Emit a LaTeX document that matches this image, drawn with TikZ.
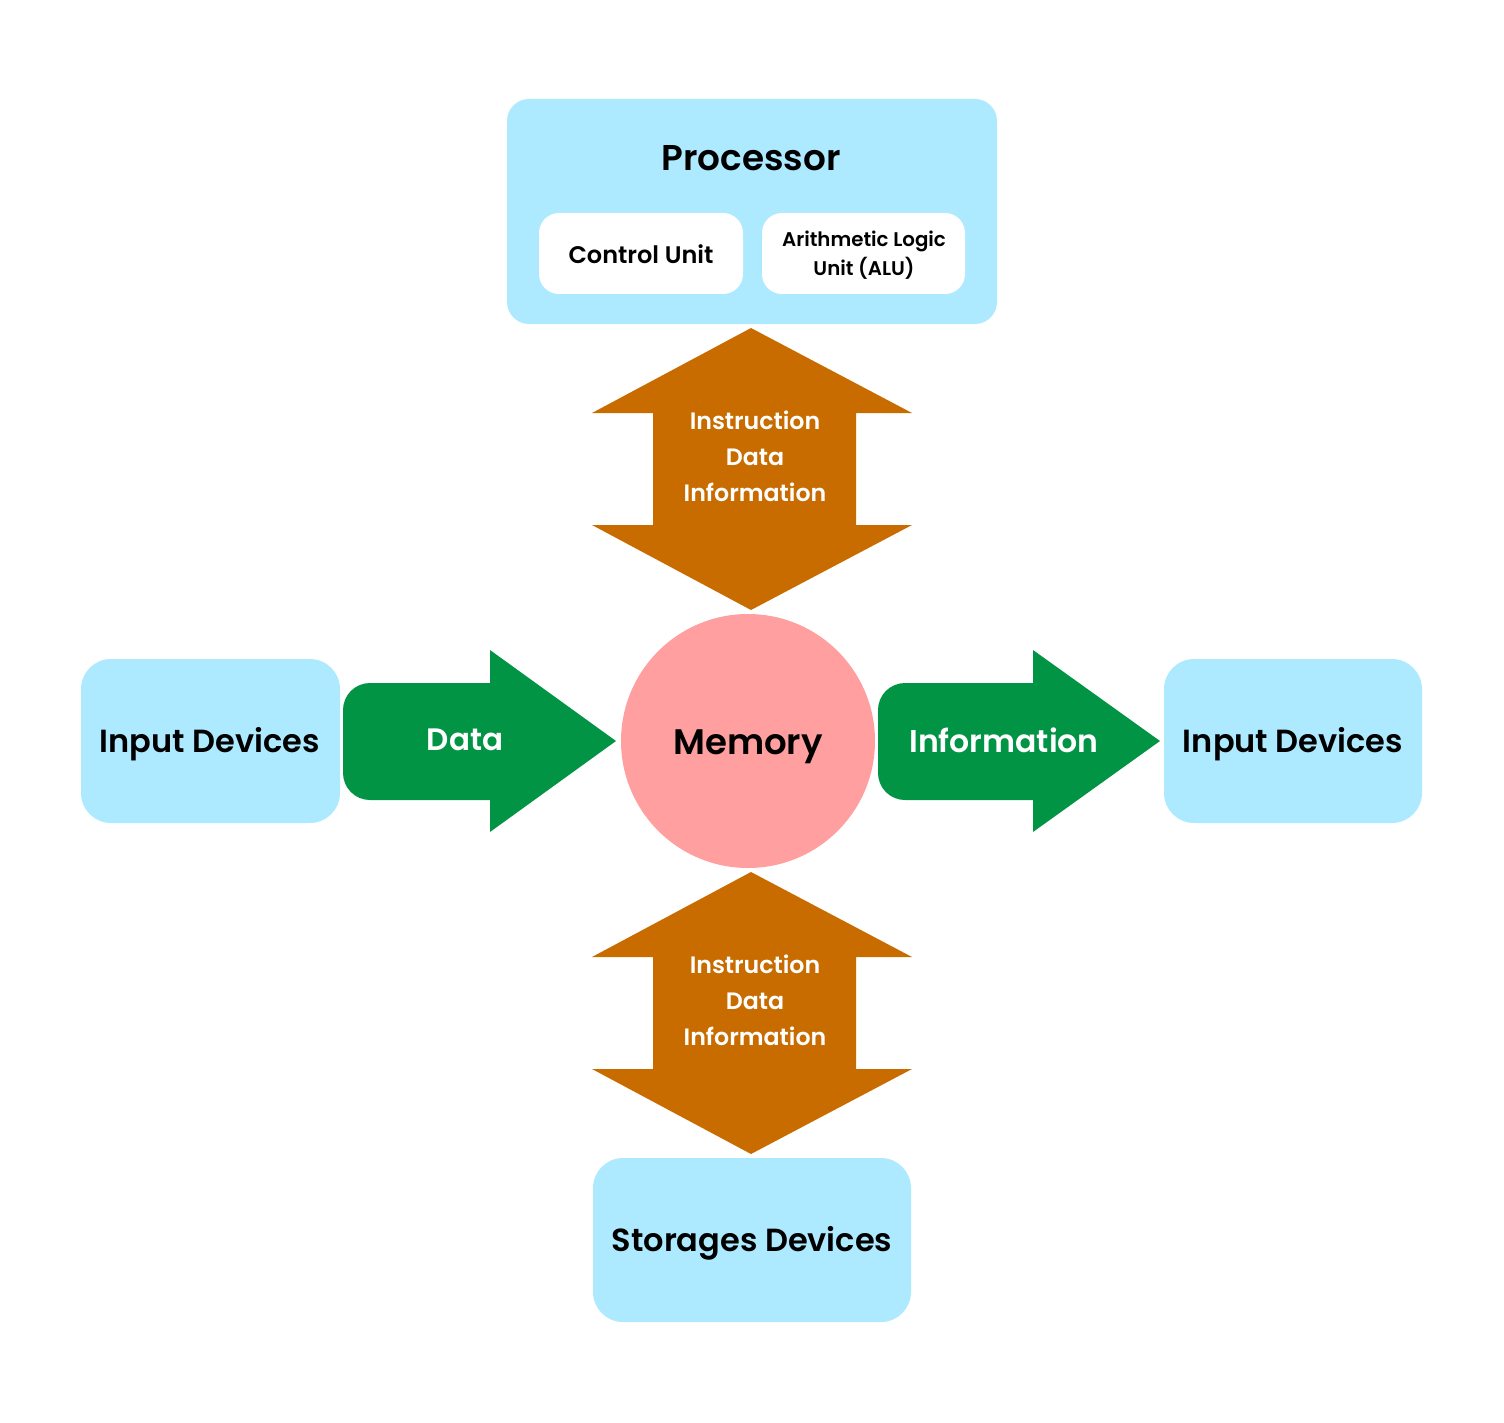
\documentclass[tikz,border=0pt]{standalone}
\usepackage{fontspec}
\setmainfont{Poppins}[BoldFont={Poppins SemiBold}]
\definecolor{boxblue}{RGB}{173,234,255}
\definecolor{orng}{RGB}{200,108,0}
\definecolor{grn}{RGB}{2,148,69}
\definecolor{mem}{RGB}{255,159,159}
\tikzset{
  bluebox/.style={fill=boxblue, rounded corners=30pt},
  whitebox/.style={fill=white, rounded corners=20pt},
  lbl/.style={font=\bfseries\fontsize{32}{36}\selectfont, text=black, align=center},
  wlbl/.style={font=\bfseries\fontsize{23.7}{36}\selectfont, text=white, align=center},
}
\begin{document}
\begin{tikzpicture}[x=1pt,y=-1pt]
\useasboundingbox (0,0) rectangle (1504,1423);
% Processor
\fill[bluebox, rounded corners=22pt] (507,99) rectangle (997,324);
\node[font=\bfseries\fontsize{35.8}{40}\selectfont] (proc) at (751,158) {Processor};
\fill[whitebox] (539,213) rectangle (743,294);
\node[font=\bfseries\fontsize{24}{28}\selectfont] (cu) at (641,254) {Control Unit};
\fill[whitebox] (762,213) rectangle (965,294);
\node[font=\bfseries\fontsize{19.8}{29}\selectfont, align=center] (alu) at (864,255) {Arithmetic Logic\\Unit (ALU)};
% top double arrow
\fill[orng] (751,328) -- (912,413) -- (856,413) -- (856,525) -- (912,525) -- (751,610) -- (592,525) -- (653,525) -- (653,413) -- (592,413) -- cycle;
\node[wlbl] (t1) at (755,456) {Instruction\\Data\\Information};
% bottom double arrow
\fill[orng] (751,872) -- (912,957) -- (856,957) -- (856,1069) -- (912,1069) -- (751,1154) -- (592,1069) -- (653,1069) -- (653,957) -- (592,957) -- cycle;
\node[wlbl] (t2) at (755,1000) {Instruction\\Data\\Information};
% memory
\fill[mem] (748,741) circle (127);
\node[font=\bfseries\fontsize{35.5}{40}\selectfont] (memory) at (748,747) {Memory};
% side boxes
\fill[bluebox] (81,659) rectangle (340,823);
\node[lbl] (in1) at (210,744) {Input Devices};
\fill[bluebox] (1164,659) rectangle (1422,823);
\node[lbl] (in2) at (1293,744) {Input Devices};
\fill[bluebox] (593,1158) rectangle (911,1322);
\node[lbl] (st) at (752,1243) {Storages Devices};
% green arrows
\fill[grn, rounded corners=27pt] (343,683) rectangle (528,800);
\fill[grn] (490,650) -- (616,741) -- (490,832) -- cycle;
\fill[grn, rounded corners=27pt] (878,683) rectangle (1070,800);
\fill[grn] (1033,650) -- (1160,741) -- (1033,832) -- cycle;
\node[font=\bfseries\fontsize{31}{36}\selectfont, text=white] (d) at (465,740) {Data};
\node[font=\bfseries\fontsize{31.5}{36}\selectfont, text=white] (inf) at (1004,740) {Information};
\end{tikzpicture}
\end{document}
